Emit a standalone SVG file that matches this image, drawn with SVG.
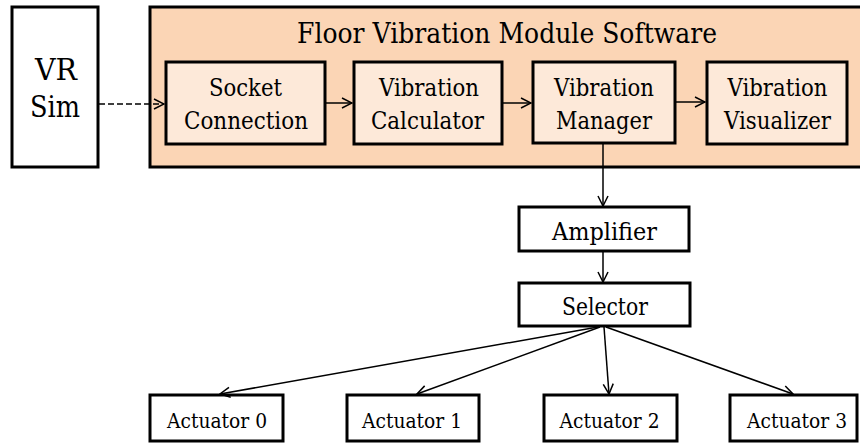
<svg xmlns="http://www.w3.org/2000/svg" width="860" height="443" viewBox="0 0 860 443">
<style>
text{fill:#000;text-anchor:middle;font-family:'DejaVu Serif','Liberation Serif',serif}
.box{fill:#fff;stroke:#000;stroke-width:3}
.outer{fill:#FBD5B5;stroke:#000;stroke-width:3}
.inner{fill:#FDE9D9;stroke:#000;stroke-width:3}
.ln{stroke:#000;stroke-width:1.5;fill:none}
.t24{font-size:24px}
.t20{font-size:20.5px}
</style>
<defs>
<marker id="ah" viewBox="0 0 12 12" refX="11" refY="6" markerWidth="12" markerHeight="12" markerUnits="userSpaceOnUse" orient="auto">
<path d="M1,1 L11,6 L1,11" fill="none" stroke="#000" stroke-width="1.5"/>
</marker>
</defs>
<g id="vrsim">
<rect class="box" x="12" y="7" width="86" height="160"/>
<text x="56" y="80" font-size="30" textLength="42" lengthAdjust="spacingAndGlyphs">VR</text>
<text x="55" y="117" font-size="30" textLength="50" lengthAdjust="spacingAndGlyphs">Sim</text>
</g>
<g id="module">
<rect class="outer" x="150" y="7" width="715" height="160"/>
<text x="507" y="43" font-size="27.5" textLength="420" lengthAdjust="spacingAndGlyphs">Floor Vibration Module Software</text>
</g>
<g id="socket">
<rect class="inner" x="166" y="62" width="159" height="82"/>
<text class="t24" x="245.5" y="96" textLength="73" lengthAdjust="spacingAndGlyphs">Socket</text>
<text class="t24" x="246" y="129" textLength="124" lengthAdjust="spacingAndGlyphs">Connection</text>
</g>
<g id="calculator">
<rect class="inner" x="354" y="62" width="148" height="82"/>
<text class="t24" x="429" y="96" textLength="100" lengthAdjust="spacingAndGlyphs">Vibration</text>
<text class="t24" x="427.5" y="129" textLength="113" lengthAdjust="spacingAndGlyphs">Calculator</text>
</g>
<g id="manager">
<rect class="inner" x="533" y="62" width="142" height="81"/>
<text class="t24" x="604" y="96" textLength="100" lengthAdjust="spacingAndGlyphs">Vibration</text>
<text class="t24" x="604" y="129" textLength="96" lengthAdjust="spacingAndGlyphs">Manager</text>
</g>
<g id="visualizer">
<rect class="inner" x="707" y="62" width="140" height="82"/>
<text class="t24" x="777.5" y="96" textLength="100" lengthAdjust="spacingAndGlyphs">Vibration</text>
<text class="t24" x="777.5" y="129" textLength="107" lengthAdjust="spacingAndGlyphs">Visualizer</text>
</g>
<g id="amplifier">
<rect class="box" x="519" y="207" width="170" height="44"/>
<text class="t24" x="604.5" y="240" textLength="105" lengthAdjust="spacingAndGlyphs">Amplifier</text>
</g>
<g id="selector">
<rect class="box" x="519" y="283" width="171" height="43"/>
<text class="t24" x="605" y="315" textLength="86" lengthAdjust="spacingAndGlyphs">Selector</text>
</g>
<g id="act0">
<rect class="box" x="150" y="395" width="133" height="46"/>
<text class="t20" x="217" y="428" textLength="100" lengthAdjust="spacingAndGlyphs">Actuator 0</text>
</g>
<g id="act1">
<rect class="box" x="347" y="395" width="132" height="46"/>
<text class="t20" x="412" y="428" textLength="100" lengthAdjust="spacingAndGlyphs">Actuator 1</text>
</g>
<g id="act2">
<rect class="box" x="544" y="395" width="133" height="46"/>
<text class="t20" x="609.5" y="428" textLength="100" lengthAdjust="spacingAndGlyphs">Actuator 2</text>
</g>
<g id="act3">
<rect class="box" x="730" y="395" width="127" height="46"/>
<text class="t20" x="797" y="428" textLength="100" lengthAdjust="spacingAndGlyphs">Actuator 3</text>
</g>
<g id="connectors">
<line class="ln" x1="99" y1="104" x2="164" y2="104" stroke-dasharray="6,3" stroke-width="2" marker-end="url(#ah)"/>
<line class="ln" x1="326" y1="103" x2="352" y2="103" marker-end="url(#ah)"/>
<line class="ln" x1="503" y1="103" x2="531" y2="103" marker-end="url(#ah)"/>
<line class="ln" x1="676" y1="102" x2="705" y2="102" marker-end="url(#ah)"/>
<line class="ln" x1="603" y1="144" x2="603" y2="206" marker-end="url(#ah)"/>
<line class="ln" x1="603" y1="252" x2="603" y2="282" marker-end="url(#ah)"/>
<line class="ln" x1="598" y1="327" x2="220" y2="394" marker-end="url(#ah)"/>
<line class="ln" x1="600" y1="327" x2="417" y2="394" marker-end="url(#ah)"/>
<line class="ln" x1="604" y1="327" x2="609" y2="394" marker-end="url(#ah)"/>
<line class="ln" x1="606" y1="327" x2="793" y2="394" marker-end="url(#ah)"/>
</g>
</svg>
